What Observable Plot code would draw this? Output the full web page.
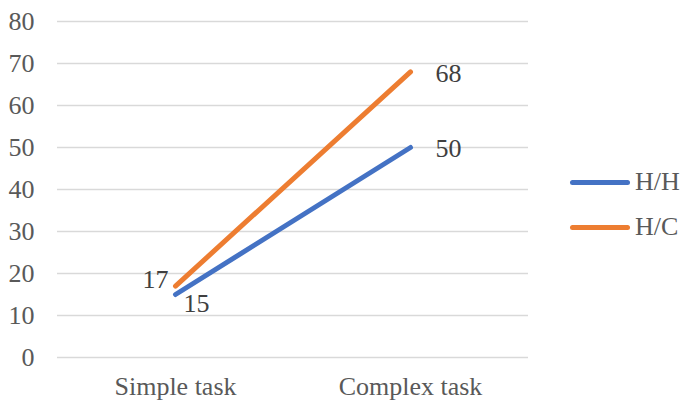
<!DOCTYPE html>
<html>
<head>
<meta charset="utf-8">
<script src="https://cdn.jsdelivr.net/npm/d3@7"></script>
<script src="https://cdn.jsdelivr.net/npm/@observablehq/plot@0.6"></script>
<style>
  html, body { margin: 0; padding: 0; background: #fff; }
  #wrap { position: relative; width: 680px; height: 403px; }
  #legend { position: absolute; left: 570px; top: 166px; font-family: "Liberation Serif", "Times New Roman", serif; font-size: 26px; color: #595959; }
  .item { display: flex; align-items: center; height: 32px; margin-bottom: 13px; }
  .swatch { width: 60px; height: 5px; border-radius: 3px; margin-right: 5px; }
</style>
</head>
<body>
<div id="wrap"></div>
<script>
const categories = ["Simple task", "Complex task"];
const seriesNames = ["H/H", "H/C"];
const hhValues = [15, 50];
const hcValues = [17, 68];
const yTicks = [0, 10, 20, 30, 40, 50, 60, 70, 80];
const colors = ["#4472C4", "#ED7D31"];

const data = [];
categories.forEach((c, i) => {
  data.push({ cat: c, series: "H/H", value: hhValues[i] });
  data.push({ cat: c, series: "H/C", value: hcValues[i] });
});

function offset(d) {
  if (d.cat === categories[0]) {
    return d.series === "H/C" ? { dx: -7, dy: -6, anchor: "end" } : { dx: 8, dy: 9, anchor: "start" };
  }
  return { dx: 25, dy: 1.5, anchor: "start" };
}

const font = '"Liberation Serif", "Times New Roman", serif';
const labelMarks = data.map(d => {
  const o = offset(d);
  return Plot.text([d], { x: "cat", y: "value", text: d => String(d.value), dx: o.dx, dy: o.dy, textAnchor: o.anchor, fill: "#404040", fontSize: 26, fontFamily: font });
});

const chart = Plot.plot({
  width: 680,
  height: 403,
  marginLeft: 57,
  marginRight: 152,
  marginTop: 21,
  marginBottom: 46,
  style: { fontFamily: font, fontSize: "26px", color: "#595959", background: "#fff" },
  x: { type: "point", domain: categories, padding: 0.5, label: null },
  y: { domain: [0, 80], ticks: yTicks, label: null },
  color: { domain: seriesNames, range: colors },
  marks: [
    Plot.ruleY(yTicks, { stroke: "#d9d9d9", strokeWidth: 1.5 }),
    Plot.axisY({ ticks: yTicks, tickSize: 0, tickPadding: 23, fill: "#595959", fontSize: 26, fontFamily: font, label: null }),
    Plot.axisX({ tickSize: 0, tickPadding: 19.5, fill: "#595959", fontSize: 26, fontFamily: font, label: null }),
    Plot.line(data, { x: "cat", y: "value", z: "series", stroke: "series", strokeWidth: 5, strokeLinecap: "round" }),
    ...labelMarks
  ]
});

const wrap = document.getElementById("wrap");
wrap.appendChild(chart);

const legend = document.createElement("div");
legend.id = "legend";
seriesNames.forEach((s, i) => {
  const item = document.createElement("div");
  item.className = "item";
  const sw = document.createElement("div");
  sw.className = "swatch";
  sw.style.background = colors[i];
  const t = document.createElement("span");
  t.textContent = s;
  item.appendChild(sw);
  item.appendChild(t);
  legend.appendChild(item);
});
wrap.appendChild(legend);
</script>
</body>
</html>
